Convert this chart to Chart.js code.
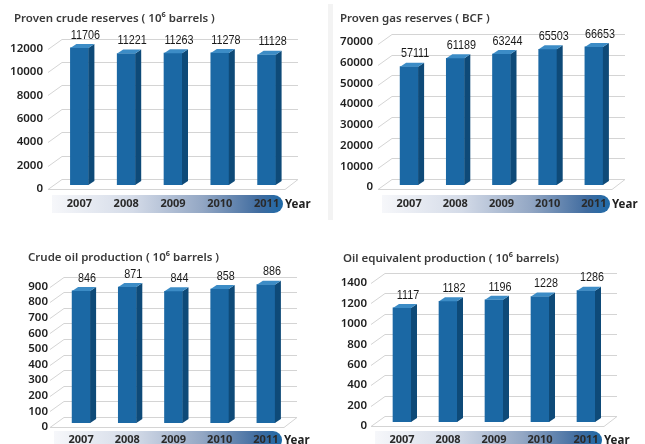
<!DOCTYPE html>
<html>
<head>
<meta charset="utf-8">
<script src="https://cdn.jsdelivr.net/npm/chart.js@4.4.1/dist/chart.umd.min.js"></script>
<style>
    body { margin: 0; background: #fff; width: 645px; height: 444px; overflow: hidden; position: relative; font-family: "Noto Sans", sans-serif; }
    .panel { position: absolute; }
    .panel canvas { position: absolute; left: 0; top: 0; }
    .title { position: absolute; font-size: 11.5px; font-weight: 600; color: #3a3a3a; white-space: nowrap; line-height: 14px; }
    .sep { position: absolute; left: 328px; top: 4px; width: 5px; height: 216px; background: #f3f3f3; }
</style>
</head>
<body>
<div class="sep"></div>
<div class="panel" style="left:0;top:0"><canvas id="crudeReservesChart" width="322" height="222"></canvas></div>
<div class="panel" style="left:320px;top:0"><canvas id="gasReservesChart" width="325" height="222"></canvas></div>
<div class="panel" style="left:0;top:222px"><canvas id="crudeProductionChart" width="322" height="222"></canvas></div>
<div class="panel" style="left:320px;top:222px"><canvas id="oilEquivChart" width="325" height="222"></canvas></div>
<div class="title" style="left:14px;top:11px">Proven crude reserves ( 10⁶ barrels )</div>
<div class="title" style="left:340px;top:11px">Proven gas reserves ( BCF )</div>
<div class="title" style="left:28px;top:250px">Crude oil production ( 10⁶ barrels )</div>
<div class="title" style="left:343px;top:251px">Oil equivalent production ( 10⁶ barrels)</div>

<script>
// --- data ---
var years = ['2007', '2008', '2009', '2010', '2011'];
var crudeReserves = [11706, 11221, 11263, 11278, 11128];
var gasReserves = [57111, 61189, 63244, 65503, 66653];
var crudeProduction = [846, 871, 844, 858, 886];
var oilEquivProduction = [1117, 1182, 1196, 1228, 1286];

var crudeReservesAxis = [0, 12000, 2000];
var gasReservesAxis = [0, 70000, 10000];
var crudeProductionAxis = [0, 900, 100];
var oilEquivAxis = [0, 1400, 200];

// 3D look: back wall grid, extruded bars, year band
var bars3d = {
    id: 'bars3d',
    beforeDraw: function (chart) {
        var ctx = chart.ctx, a = chart.chartArea, y = chart.scales.y;
        var cfg = chart.options.plugins.bars3d;
        ctx.save();
        // year band
        var bx0 = a.left - 4, bx1 = a.right - 7, by = cfg.bandTop, bh = 18;
        var g = ctx.createLinearGradient(bx0, 0, bx1, 0);
        g.addColorStop(0, '#f6f7fa');
        g.addColorStop(0.35, '#d4dbe8');
        g.addColorStop(0.65, '#93a7c4');
        g.addColorStop(0.9, '#3f6b9f');
        g.addColorStop(1, '#1e6aa8');
        ctx.fillStyle = g;
        ctx.beginPath();
        ctx.moveTo(bx0, by);
        ctx.lineTo(bx1 - bh / 2, by);
        ctx.arc(bx1 - bh / 2, by + bh / 2, bh / 2, -Math.PI / 2, Math.PI / 2);
        ctx.lineTo(bx0, by + bh);
        ctx.closePath();
        ctx.fill();
        ctx.fillStyle = '#222';
        ctx.font = 'bold 11.5px "Noto Sans", sans-serif';
        ctx.textBaseline = 'middle';
        ctx.textAlign = 'left';
        ctx.fillText('Year', bx1 + 2, by + bh / 2 + 1);

        // grid on back wall
        ctx.strokeStyle = '#d4d4d4';
        ctx.lineWidth = 1;
        var x0 = a.left - 8;
        y.ticks.forEach(function (t) {
            var yp = Math.round(y.getPixelForValue(t.value)) + 0.5;
            ctx.beginPath();
            ctx.moveTo(x0, yp + 4);
            ctx.lineTo(x0 + 14, yp - 6);
            ctx.lineTo(a.right + 8, yp - 6);
            if (t.value === 0) {
                ctx.moveTo(x0, yp + 4);
                ctx.lineTo(a.right - 5, yp + 4);
                ctx.lineTo(a.right + 8, yp - 6);
            }
            ctx.stroke();
        });
        ctx.restore();
    },
    afterDatasetsDraw: function (chart) {
        var ctx = chart.ctx;
        var meta = chart.getDatasetMeta(0);
        var vals = chart.data.datasets[0].data;
        var dx = 6, dy = 4;
        ctx.save();
        meta.data.forEach(function (bar, i) {
            var l = bar.x - bar.width / 2, r = bar.x + bar.width / 2;
            // side
            ctx.fillStyle = '#0e4a78';
            ctx.beginPath();
            ctx.moveTo(r, bar.y);
            ctx.lineTo(r + dx, bar.y - dy);
            ctx.lineTo(r + dx, bar.base - dy);
            ctx.lineTo(r, bar.base);
            ctx.closePath();
            ctx.fill();
            // top
            ctx.fillStyle = '#3c8cc6';
            ctx.beginPath();
            ctx.moveTo(l, bar.y);
            ctx.lineTo(l + dx, bar.y - dy);
            ctx.lineTo(r + dx, bar.y - dy);
            ctx.lineTo(r, bar.y);
            ctx.closePath();
            ctx.fill();
            // value, squeezed to look condensed
            ctx.save();
            ctx.translate(bar.x + 6, bar.y - 13);
            ctx.scale(0.8, 1);
            ctx.fillStyle = '#1a1a1a';
            ctx.font = '13.5px "Liberation Sans", sans-serif';
            ctx.textAlign = 'center';
            ctx.textBaseline = 'middle';
            ctx.fillText(String(vals[i]), 0, 0);
            ctx.restore();
        });
        ctx.restore();
    }
};

function makeChart(id, values, axis, box) {
    var el = document.getElementById(id);
    var W = el.width, H = el.height;
    return new Chart(el.getContext('2d'), {
        type: 'bar',
        data: {
            labels: years,
            datasets: [{
                data: values,
                backgroundColor: '#1b68a4',
                borderWidth: 0,
                barThickness: 18
            }]
        },
        options: {
            responsive: false,
            animation: false,
            events: [],
            layout: { padding: { left: 0, right: W - box.r, top: box.t, bottom: 0 } },
            plugins: {
                legend: { display: false },
                tooltip: { enabled: false },
                bars3d: { bandTop: box.band }
            },
            scales: {
                x: {
                    grid: { display: false, drawTicks: false },
                    border: { display: false },
                    ticks: { color: '#2a2a2a', padding: box.xpad, font: { family: '"Noto Sans", sans-serif', size: 11, weight: 'bold' } },
                    afterFit: function (s) { s.height = H - box.b; }
                },
                y: {
                    min: axis[0],
                    max: axis[1],
                    grid: { display: false, drawTicks: false },
                    border: { display: false },
                    ticks: {
                        stepSize: axis[2],
                        autoSkip: false,
                        color: '#1e1e1e',
                        padding: box.l - box.lab,
                        labelOffset: box.off,
                        font: { family: '"Noto Sans", sans-serif', size: 11.5, weight: '600' },
                        callback: function (v) { return String(v); }
                    },
                    afterFit: function (s) { s.width = box.l; }
                }
            }
        },
        plugins: [bars3d]
    });
}

document.addEventListener('DOMContentLoaded', function () {
    makeChart('crudeReservesChart', crudeReserves, crudeReservesAxis,
        { l: 56, r: 290, t: 44.5, b: 185, lab: 43, off: 4, band: 195, xpad: 12 });
    makeChart('gasReservesChart', gasReserves, gasReservesAxis,
        { l: 66, r: 297, t: 40, b: 185, lab: 53, off: 2, band: 195, xpad: 12 });
    makeChart('crudeProductionChart', crudeProduction, crudeProductionAxis,
        { l: 58, r: 289, t: 60.5, b: 201, lab: 48, off: 4, band: 209, xpad: 10 });
    makeChart('oilEquivChart', oilEquivProduction, oilEquivAxis,
        { l: 59, r: 289, t: 57, b: 200, lab: 47, off: 4, band: 209, xpad: 11 });
});
</script>
</body>
</html>
